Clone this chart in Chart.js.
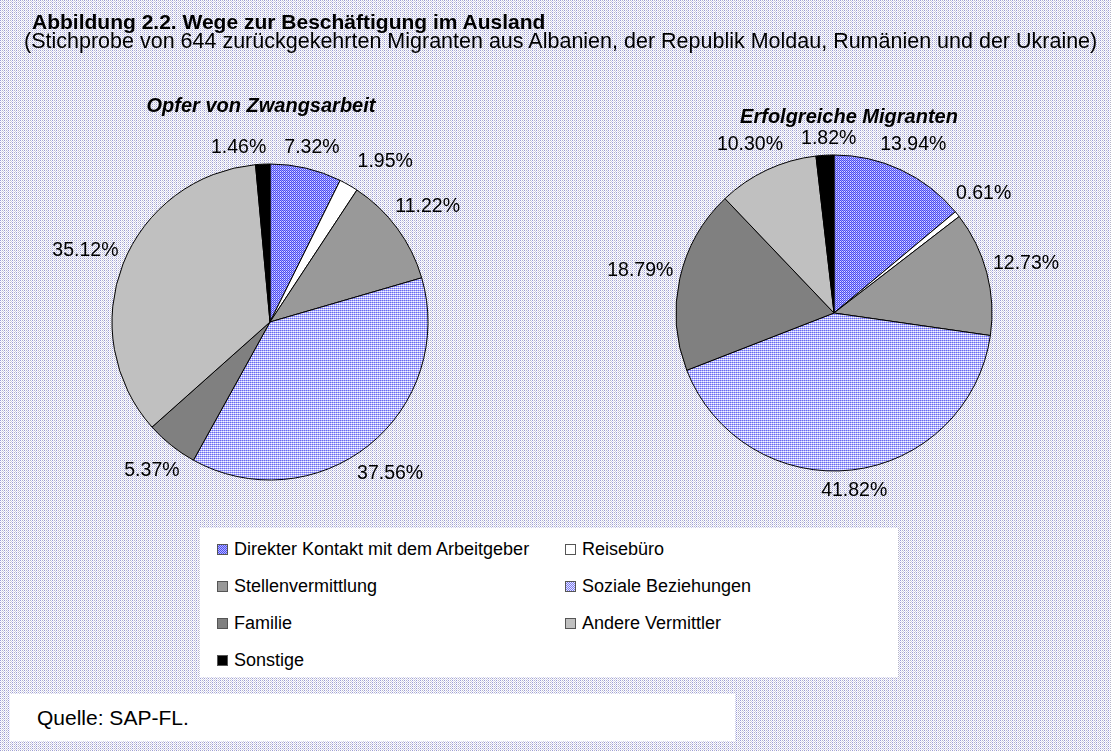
<!DOCTYPE html>
<html>
<head>
<meta charset="utf-8">
<script src="https://cdn.jsdelivr.net/npm/chart.js@4"></script>
<style>
  html, body { margin: 0; padding: 0; }
  body { width: 1111px; height: 751px; position: relative; overflow: hidden; font-family: "Liberation Sans", Arial, sans-serif; color: #000; }
  #page { position: absolute; left: 0; top: 0; width: 1111px; height: 751px; }
  .txt { position: absolute; white-space: nowrap; }
  #title { left: 32px; top: 11px; font-size: 21px; line-height: 21px; font-weight: bold; }
  #subtitle { left: 24px; top: 31px; font-size: 21.5px; line-height: 21.5px; }
  .pietitle { font-size: 20px; line-height: 20px; font-weight: bold; font-style: italic; transform: translateX(-50%); }
  canvas.pie { position: absolute; }
  #legend { position: absolute; left: 200px; top: 528px; width: 698px; height: 149px; background: #fff; }
  .item { position: absolute; font-size: 18px; line-height: 18px; }
  .sw { display: inline-block; width: 11px; height: 11px; border: 1px solid #555; vertical-align: 0px; margin-right: 6px; box-sizing: border-box; }
  #source { position: absolute; left: 10px; top: 694px; width: 725px; height: 47px; background: #fff; }
  #source span { position: absolute; left: 27px; top: 13px; font-size: 21px; line-height: 21px; }
</style>
</head>
<body>
<canvas id="page" width="1111" height="751"></canvas>
<div class="txt" id="title">Abbildung 2.2. Wege zur Beschäftigung im Ausland</div>
<div class="txt" id="subtitle">(Stichprobe von 644 zurückgekehrten Migranten aus Albanien, der Republik Moldau, Rumänien und der Ukraine)</div>
<div class="txt pietitle" style="left:261px; top:95px;">Opfer von Zwangsarbeit</div>
<div class="txt pietitle" style="left:849px; top:106px;">Erfolgreiche Migranten</div>
<canvas class="pie" id="pieLeft" style="left:0px; top:0px;"></canvas>
<canvas class="pie" id="pieRight" style="left:556px; top:0px;"></canvas>
<div id="legend"></div>
<div id="source"><span>Quelle: SAP-FL.</span></div>

<script>
// Kategorien und Werte (in %)
var categories = ["Direkter Kontakt mit dem Arbeitgeber", "Reisebüro", "Stellenvermittlung", "Soziale Beziehungen", "Familie", "Andere Vermittler", "Sonstige"];
var opferValues = [7.32, 1.95, 11.22, 37.56, 5.37, 35.12, 1.46];
var erfolgValues = [13.94, 0.61, 12.73, 41.82, 18.79, 10.30, 1.82];
var legendOrder = [0, 1, 2, 3, 4, 5, 6];

// kleines Muster auf einer Canvas erzeugen
function makeTile(w, h, cells) {
    var c = document.createElement('canvas');
    c.width = w; c.height = h;
    var x = c.getContext('2d');
    cells.forEach(function (cell) {
        x.fillStyle = cell[2];
        x.fillRect(cell[0], cell[1], cell[3] || 1, cell[4] || 1);
    });
    return c;
}

var bgTile = makeTile(4, 2, [[0, 0, '#ffffff', 4, 2], [0, 0, '#9a9ad8'], [2, 0, '#b4b4c8'], [1, 1, '#e0e0f2'], [3, 1, '#ccccE6']]);
var direktTile = makeTile(2, 2, [[0, 0, '#4a4af2'], [1, 1, '#4a4af2'], [1, 0, '#9c9cff'], [0, 1, '#dcdcff']]);
var sozialTile = makeTile(2, 2, [[0, 0, '#6a6af0'], [1, 1, '#f4f4ff'], [1, 0, '#a8a8f8'], [0, 1, '#c8c8ff']]);

// Hintergrund
var pg = document.getElementById('page').getContext('2d');
pg.fillStyle = pg.createPattern(bgTile, 'repeat');
pg.fillRect(0, 0, 1111, 751);

var tmp = document.createElement('canvas').getContext('2d');
var colors = [
    tmp.createPattern(direktTile, 'repeat'),
    '#ffffff',
    '#999999',
    tmp.createPattern(sozialTile, 'repeat'),
    '#808080',
    '#c0c0c0',
    '#000000'
];
var swatchCss = [
    'repeating-conic-gradient(#4a4af2 0 25%, #b8b8ff 0 50%) 0 0/2px 2px',
    '#ffffff', '#999999',
    'repeating-conic-gradient(#7a7af0 0 25%, #e8e8ff 0 50%) 0 0/2px 2px',
    '#808080', '#c0c0c0', '#000000'
];

// Prozent-Beschriftungen außerhalb der Torte, Überlappungen werden seitlich aufgelöst
var outsideLabels = {
    id: 'outsideLabels',
    afterDatasetsDraw: function (chart) {
        var ctx = chart.ctx;
        var meta = chart.getDatasetMeta(0);
        var data = chart.data.datasets[0].data;
        var lh = 20, pad = 18;
        ctx.save();
        ctx.font = '19.5px "Liberation Sans", Arial, sans-serif';
        ctx.fillStyle = '#000';
        ctx.textAlign = 'center';
        ctx.textBaseline = 'middle';
        var boxes = meta.data.map(function (arc, i) {
            var p = arc.getProps(['x', 'y', 'startAngle', 'endAngle', 'outerRadius'], true);
            var mid = (p.startAngle + p.endAngle) / 2;
            var ux = Math.cos(mid), uy = Math.sin(mid);
            var text = data[i].toFixed(2) + '%';
            var w = ctx.measureText(text).width;
            var d = p.outerRadius + 6 + Math.abs(ux) * w / 2 + Math.abs(uy) * lh / 2;
            return { text: text, w: w, x: p.x + ux * d, y: p.y + uy * d };
        });
        for (var it = 0; it < 10; it++) {
            for (var a = 0; a < boxes.length; a++) {
                for (var b = a + 1; b < boxes.length; b++) {
                    var A = boxes[a], B = boxes[b];
                    if (Math.abs(A.y - B.y) >= lh) continue;
                    var need = (A.w + B.w) / 2 + pad;
                    var gap = Math.abs(A.x - B.x);
                    if (gap < need) {
                        var s = (need - gap) / 2;
                        if (A.x < B.x) { A.x -= s; B.x += s; } else { A.x += s; B.x -= s; }
                    }
                }
            }
        }
        boxes.forEach(function (bx) {
            ctx.fillText(bx.text, bx.x, bx.y + 1);
        });
        ctx.restore();
    }
};

function drawPie(id, values, w, h) {
    var cv = document.getElementById(id);
    cv.width = w; cv.height = h;
    cv.style.width = w + 'px'; cv.style.height = h + 'px';
    return new Chart(cv, {
        type: 'pie',
        data: {
            labels: categories,
            datasets: [{
                data: values,
                backgroundColor: colors,
                borderColor: '#000000',
                borderWidth: 1,
                radius: 158
            }]
        },
        options: {
            responsive: false,
            animation: false,
            devicePixelRatio: 1,
            layout: { padding: 0 },
            plugins: { legend: { display: false }, tooltip: { enabled: false }, title: { display: false } },
            events: []
        },
        plugins: [outsideLabels]
    });
}

drawPie('pieLeft', opferValues, 540, 644);
drawPie('pieRight', erfolgValues, 556, 626);

// Legende
var leg = document.getElementById('legend');
legendOrder.forEach(function (idx, n) {
    var col = n % 2, row = Math.floor(n / 2);
    var div = document.createElement('div');
    div.className = 'item';
    div.style.left = (col === 0 ? 17 : 365) + 'px';
    div.style.top = (12 + row * 37) + 'px';
    div.innerHTML = '<span class="sw" style="background:' + swatchCss[idx] + '"></span>' + categories[idx];
    leg.appendChild(div);
});
</script>
</body>
</html>
